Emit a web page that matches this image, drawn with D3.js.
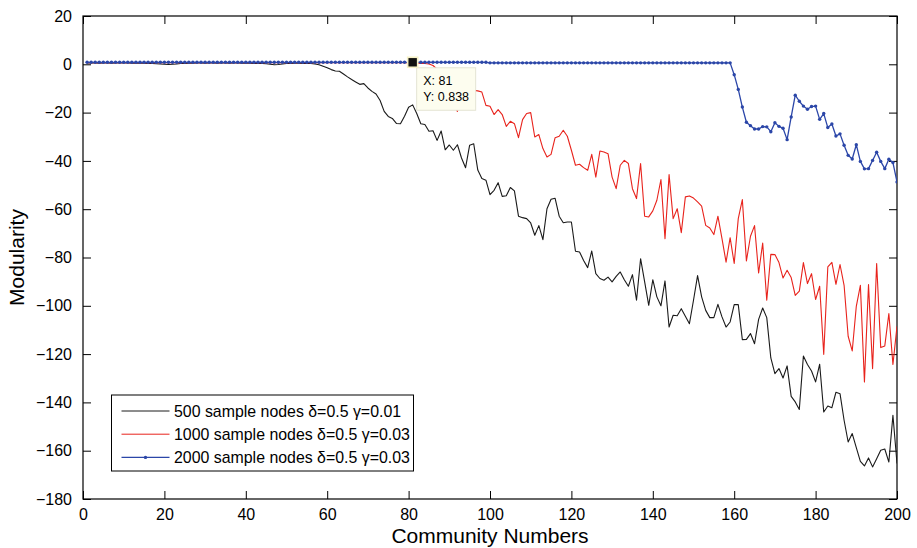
<!DOCTYPE html>
<html>
<head lang="en">
  <meta charset="UTF-8">
<title>Modularity vs community numbers</title>
<style>
body { margin: 0; background: #fff; }
.tick text, .lbl { font-family: "Liberation Sans", Arial, Helvetica, sans-serif; }
</style>
<script src="https://cdn.jsdelivr.net/npm/d3@7"></script>
</head>
<body>
<div id="vis"></div>
<script>

// community numbers run 1..200
var xTicks = [0, 20, 40, 60, 80, 100, 120, 140, 160, 180, 200];
var yTicks = [20, 0, -20, -40, -60, -80, -100, -120, -140, -160, -180];

var seriesNames = ["500 sample nodes \u03b4=0.5 \u03b3=0.01",
                   "1000 sample nodes \u03b4=0.5 \u03b3=0.03",
                   "2000 sample nodes \u03b4=0.5 \u03b3=0.03"];

// 500 sample nodes (black)
var black = [
  0.6,0.6,0.6,0.5,0.6,0.6,0.5,0.6,0.6,0.6,
  0.6,0.5,0.6,0.5,0.5,0.4,0.3,0.2,0.1,0.0,
  -0.1,0.0,0.1,0.3,0.4,0.5,0.5,0.6,0.6,0.5,
  0.6,0.6,0.5,0.6,0.6,0.5,0.6,0.6,0.5,0.5,
  0.5,0.4,0.4,0.3,0.2,0.0,-0.2,-0.1,0.1,0.3,
  0.4,0.5,0.5,0.4,0.4,0.3,0.1,-0.2,-0.8,-1.4,
  -2.2,-2.8,-2.9,-4,-5.2,-6.3,-7.3,-8.3,-8,-9.8,
  -11.2,-12.3,-15,-19.5,-21.6,-22.4,-24.5,-24.6,-21.5,-17.8,
  -16.8,-20.4,-24.6,-24.9,-27.7,-27.5,-31.5,-27.6,-35.4,-33.4,
  -35.6,-33.3,-38.8,-42.8,-33.5,-32.9,-43.8,-47.3,-48,-54,
  -52.2,-49,-54.7,-54.4,-51,-52.4,-62.9,-63.5,-63.9,-65.7,
  -70.8,-66.8,-72.6,-59.8,-55.9,-55.5,-62.9,-65.6,-65.3,-65.3,
  -77.4,-77.7,-81.2,-84.2,-77.3,-86.7,-88.7,-89.4,-88.1,-90.1,
  -87.8,-86,-89.2,-91.9,-87.1,-97.7,-80.5,-90.1,-99.8,-89.2,
  -96.3,-100,-89.7,-108.8,-103.9,-104.1,-101.2,-104.3,-107.4,-97.7,
  -87.5,-96.3,-101.9,-104.9,-104.9,-99.4,-104.6,-108.8,-106.7,-99.5,
  -99.5,-114,-113.9,-111.5,-115.7,-105.6,-100.9,-104.9,-121.6,-128.1,
  -126,-129.9,-124.9,-137.5,-139.8,-142.9,-120.8,-124.3,-127,-131.5,
  -124.2,-144,-141.5,-142.2,-135.8,-136.4,-147.4,-156.4,-152.9,-158.7,
  -164.4,-166.3,-163,-166.7,-163.3,-159.8,-159.3,-164.7,-145.3,-165.3
];

// 1000 sample nodes (red)
var red = [
  0.7,0.7,0.7,0.7,0.7,0.7,0.7,0.7,0.7,0.7,
  0.7,0.7,0.7,0.7,0.7,0.7,0.7,0.7,0.7,0.7,
  0.7,0.7,0.7,0.7,0.7,0.7,0.7,0.7,0.7,0.7,
  0.7,0.7,0.7,0.7,0.7,0.7,0.7,0.7,0.7,0.7,
  0.7,0.7,0.7,0.7,0.7,0.7,0.7,0.7,0.7,0.7,
  0.7,0.7,0.7,0.7,0.7,0.7,0.7,0.7,0.7,0.7,
  0.7,0.7,0.7,0.7,0.7,0.7,0.7,0.7,0.7,0.7,
  0.7,0.7,0.7,0.7,0.7,0.7,0.7,0.7,0.7,0.6,
  0.6,0.5,0.4,0.3,0.1,-0.5,-2,-5,-9,-13,
  -17,-19.5,-15,-12,-10.5,-10.8,-11,-11.5,-17,-17.4,
  -20.8,-18.8,-20.8,-25.7,-23.6,-24.6,-30.4,-22.9,-20.4,-20,
  -30.1,-29.1,-34.9,-38.4,-37.3,-30.4,-29.8,-27.3,-29.8,-35.6,
  -41.8,-41.4,-42.8,-43.9,-37.3,-46.7,-35.9,-36.3,-37,-46.7,
  -51.5,-41.8,-39.8,-41.1,-51.5,-55.6,-41.1,-62.9,-63.2,-60.7,
  -56.3,-47.7,-72.2,-45.7,-63.9,-59.8,-69.7,-54.9,-54.5,-55.4,
  -57,-58.7,-66.7,-67.8,-70.5,-62.9,-72.2,-81.9,-71.8,-82.5,
  -63.9,-56,-81.4,-71.2,-66.8,-86.4,-74,-97.7,-78.7,-78.8,
  -82.1,-88.5,-85.3,-88.3,-95.7,-93.9,-82.1,-90.8,-86.7,-97.4,
  -91.9,-120.1,-83.9,-82,-91.1,-82.9,-91.5,-112.6,-118.7,-100.2,
  -91.5,-131.5,-91.2,-126,-82.5,-117.3,-116.6,-103.2,-124.3,-108.5
];

// 2000 sample nodes (blue, with markers)
var blue = [
  0.838,0.838,0.838,0.838,0.838,0.838,0.838,0.838,0.838,0.838,
  0.838,0.838,0.838,0.838,0.838,0.838,0.838,0.838,0.838,0.838,
  0.838,0.838,0.838,0.838,0.838,0.838,0.838,0.838,0.838,0.838,
  0.838,0.838,0.838,0.838,0.838,0.838,0.838,0.838,0.838,0.838,
  0.838,0.838,0.838,0.838,0.838,0.838,0.838,0.838,0.838,0.838,
  0.838,0.838,0.838,0.838,0.838,0.838,0.838,0.838,0.838,0.838,
  0.838,0.838,0.838,0.838,0.838,0.838,0.838,0.838,0.838,0.838,
  0.838,0.838,0.838,0.838,0.838,0.838,0.838,0.838,0.838,0.838,
  0.838,0.838,0.838,0.838,0.838,0.838,0.838,0.838,0.838,0.838,
  0.838,0.838,0.838,0.838,0.838,0.838,0.838,0.838,0.838,0.6,
  0.6,0.6,0.6,0.6,0.6,0.6,0.6,0.6,0.6,0.6,
  0.6,0.6,0.6,0.6,0.6,0.6,0.6,0.6,0.6,0.6,
  0.6,0.6,0.6,0.6,0.6,0.6,0.6,0.6,0.6,0.6,
  0.6,0.6,0.6,0.6,0.6,0.6,0.6,0.6,0.6,0.6,
  0.6,0.6,0.6,0.6,0.6,0.6,0.6,0.6,0.6,0.6,
  0.6,0.6,0.6,0.6,0.6,0.6,0.6,0.6,0.6,-4.3,
  -10.4,-17.7,-24,-25.4,-26.8,-26.8,-25.8,-25.9,-27.9,-24.2,
  -25.7,-26.5,-31.2,-21.8,-12.8,-15.3,-17.3,-18.6,-17.5,-17.3,
  -22.8,-20.4,-26.2,-24.7,-29.7,-28.8,-33.5,-37.7,-39.2,-33.3,
  -40.2,-43.3,-43.2,-39.8,-36.4,-40.2,-43.2,-39.3,-40.7,-48.7
];

// data cursor shown on the blue line
var cursorX = 81;

var colors = ["#1a1a1a", "#e8231c", "#2b46a8"];

var margin = {top: 16, bottom: 49, left: 83, right: 20};
var W = 917, H = 548;
var width = W - margin.left - margin.right;
var height = H - margin.top - margin.bottom;

var svg = d3.select("#vis").append("svg")
  .attr("width", W)
  .attr("height", H);

var g = svg.append("g")
  .attr("transform", "translate(" + margin.left + "," + margin.top + ")");

var x = d3.scaleLinear().domain([0, 200]).range([0, width]);
var y = d3.scaleLinear().domain([-180, 20]).range([height, 0]);

// axes, matlab style: ticks point inward on all four sides
var fmt = d3.format("d");
g.append("g").attr("transform", "translate(0," + height + ")")
  .call(d3.axisBottom(x).tickValues(xTicks).tickSizeInner(-8).tickSizeOuter(0).tickPadding(10).tickFormat(fmt));
g.append("g")
  .call(d3.axisTop(x).tickValues(xTicks).tickSizeInner(-8).tickSizeOuter(0).tickFormat(""));
g.append("g")
  .call(d3.axisLeft(y).tickValues(yTicks).tickSizeInner(-8).tickSizeOuter(0).tickPadding(11).tickFormat(fmt));
g.append("g").attr("transform", "translate(" + width + ",0)")
  .call(d3.axisRight(y).tickValues(yTicks).tickSizeInner(-8).tickSizeOuter(0).tickFormat(""));

g.selectAll(".domain").remove();
g.selectAll(".tick line").attr("stroke", "#000");
g.selectAll(".tick text").attr("font-size", "16px").attr("fill", "#000");

g.append("rect")
  .attr("width", width)
  .attr("height", height)
  .attr("fill", "none")
  .attr("stroke", "#000")
  .attr("stroke-width", 1.2);

var line = d3.line()
  .x(function(d, i) { return x(i + 1); })
  .y(function(d) { return y(d); });

var clip = g.append("clipPath").attr("id", "clip")
  .append("rect").attr("width", width).attr("height", height);

var plot = g.append("g").attr("clip-path", "url(#clip)");

[black, red, blue].forEach(function(s, k) {
  plot.append("path")
    .datum(s)
    .attr("d", line)
    .attr("fill", "none")
    .attr("stroke", colors[k])
    .attr("stroke-width", k == 2 ? 1.3 : 1.1)
    .attr("stroke-linejoin", "round");
});

plot.selectAll(".dot")
  .data(blue)
  .enter().append("circle")
  .attr("class", "dot")
  .attr("cx", function(d, i) { return x(i + 1); })
  .attr("cy", function(d) { return y(d); })
  .attr("r", 1.7)
  .attr("fill", colors[2]);

// data tip
var cx = x(cursorX), cy = y(blue[cursorX - 1]);
var tip = g.append("g").attr("transform", "translate(" + cx + "," + cy + ")");
tip.append("rect")
  .attr("x", 4).attr("y", 5.5)
  .attr("width", 59).attr("height", 42.5)
  .attr("fill", "#fdfdef")
  .attr("stroke", "#e4e4d4");
tip.append("rect")
  .attr("x", -5).attr("y", -5)
  .attr("width", 10).attr("height", 10)
  .attr("fill", "#111")
  .attr("stroke", "#f6f1c6")
  .attr("stroke-width", 1.6);
tip.append("text").attr("class", "lbl")
  .attr("x", 10.5).attr("y", 23)
  .attr("font-size", "12.5px")
  .text("X: " + cursorX);
tip.append("text").attr("class", "lbl")
  .attr("x", 10.5).attr("y", 38.5)
  .attr("font-size", "12.5px")
  .text("Y: " + blue[cursorX - 1]);

// legend
var leg = g.append("g").attr("transform", "translate(" + (111.5 - margin.left) + "," + (395 - margin.top) + ")");
leg.append("rect")
  .attr("width", 302).attr("height", 76)
  .attr("fill", "#fff")
  .attr("stroke", "#000");
seriesNames.forEach(function(name, k) {
  var ly = 16 + k * 23.2;
  leg.append("line")
    .attr("x1", 10).attr("x2", 58)
    .attr("y1", ly).attr("y2", ly)
    .attr("stroke", colors[k])
    .attr("stroke-width", k == 2 ? 1.3 : 1);
  if (k == 2) {
    leg.append("circle").attr("cx", 34).attr("cy", ly).attr("r", 1.7).attr("fill", colors[k]);
  }
  leg.append("text").attr("class", "lbl")
    .attr("x", 62.5).attr("y", ly + 5.5)
    .attr("font-size", "15.9px")
    .text(name);
});

// axis titles
svg.append("text").attr("class", "lbl")
  .attr("x", margin.left + width / 2)
  .attr("y", 543)
  .attr("text-anchor", "middle")
  .attr("font-size", "21px")
  .text("Community Numbers");

svg.append("text").attr("class", "lbl")
  .attr("transform", "translate(24," + (margin.top + height / 2) + ") rotate(-90)")
  .attr("text-anchor", "middle")
  .attr("font-size", "21px")
  .text("Modularity");

</script>
</body>
</html>
